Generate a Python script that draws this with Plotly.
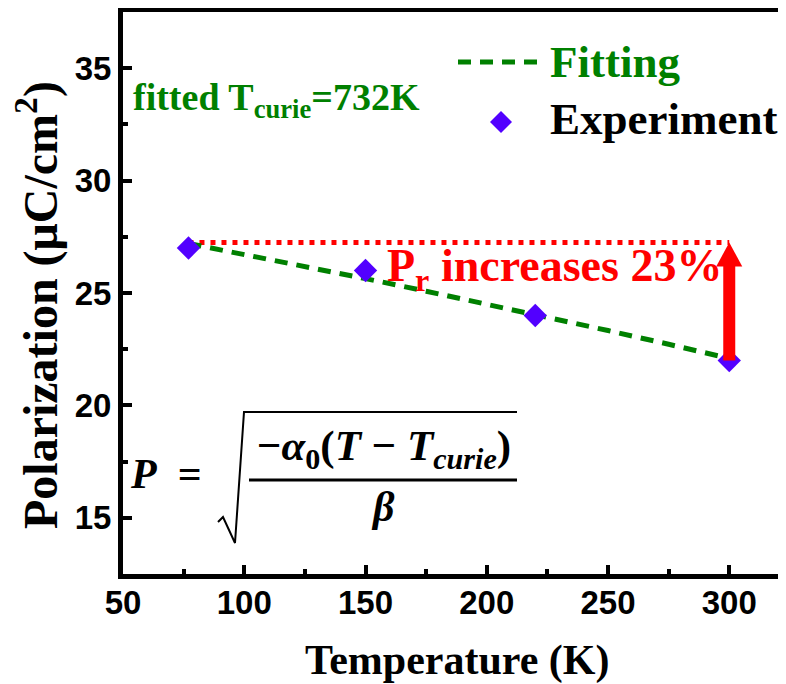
import plotly.graph_objects as go

# ---------------- data ----------------
temp_exp = [77, 150, 220, 300]
pol_exp = [27.0, 26.0, 24.0, 22.0]
temp_fit = [77, 100, 125, 150, 175, 200, 225, 250, 275, 300]
pol_fit = [27.20, 26.72, 26.18, 25.64, 25.08, 24.51, 23.93, 23.33, 22.72, 22.09]
ref_level = 27.25          # level of the red dotted reference line
x_ticks = [50, 100, 150, 200, 250, 300]
x_minor = [75, 125, 175, 225, 275]
y_ticks = [15, 20, 25, 30, 35]
y_minor = [12.5, 17.5, 22.5, 27.5, 32.5, 37.5]

# ---------------- layout helpers ----------------
# the page body has an 8px margin, so the figure is drawn 8px in from the window corner
OFF = 8
W, H = 786 - OFF, 684 - OFF
PL, PR, PT, PB = 123, 786, 12, 574     # plot area in window pixels
L, R, T, B = PL - OFF, 0, PT - OFF, H - (PB - OFF)


def px(x):
    return (x - PL) / (PR - PL)


def py(y):
    return (PB - y) / (PB - PT)


GREEN = "#008000"
RED = "#FF0000"
BLUE = "#5200FF"
SERIF = "Liberation Serif"
SANS = "Liberation Sans"

fig = go.Figure()

fig.add_trace(go.Scatter(
    x=[temp_exp[0], temp_exp[-1]], y=[ref_level, ref_level], mode="lines",
    line=dict(color=RED, width=5, dash="5px,6px"), showlegend=False, hoverinfo="skip"))

fig.add_trace(go.Scatter(
    x=temp_fit, y=pol_fit, mode="lines", name="Fitting",
    line=dict(color=GREEN, width=5, dash="13px,9px"), showlegend=False))

fig.add_trace(go.Scatter(
    x=temp_exp, y=pol_exp, mode="markers", name="Experiment",
    marker=dict(symbol="diamond", size=18, color=BLUE, line=dict(width=0)),
    showlegend=False))

shapes = []
# red arrow at the last temperature, from the measured value up to the reference level
head_h = 1.07  # data units
shapes.append(dict(type="rect", xref="x", yref="y", xsizemode="pixel", xanchor=temp_exp[-1],
                   x0=-6, x1=6, y0=pol_exp[-1], y1=ref_level - head_h + 0.05,
                   fillcolor=RED, line=dict(width=0), layer="above"))
shapes.append(dict(type="path", xref="x", yref="y", xsizemode="pixel", xanchor=temp_exp[-1],
                   path=f"M -13,{ref_level - head_h} L 13,{ref_level - head_h} L 0,{ref_level} Z",
                   fillcolor=RED, line=dict(width=0), layer="above"))

# legend samples
shapes.append(dict(type="line", xref="paper", yref="paper",
                   x0=px(458), x1=px(540), y0=py(62), y1=py(62),
                   line=dict(color=GREEN, width=5, dash="13px,9px")))
shapes.append(dict(type="path", xref="paper", yref="paper",
                   path=f"M {px(490)},{py(122)} L {px(501)},{py(111)} L {px(512)},{py(122)} L {px(501)},{py(133)} Z",
                   fillcolor=BLUE, line=dict(width=0)))

# formula: radical sign and fraction bar
shapes.append(dict(type="path", xref="paper", yref="paper",
                   path=(f"M {px(218)},{py(522)} L {px(223)},{py(517)} L {px(235)},{py(543)} "
                         f"L {px(244)},{py(412)} L {px(517)},{py(412)}"),
                   line=dict(color="black", width=2)))
shapes.append(dict(type="line", xref="paper", yref="paper",
                   x0=px(249), x1=px(517), y0=py(480), y1=py(480),
                   line=dict(color="black", width=3)))

annotations = []


def ann(text, x, y, size, color="black", xanchor="left", yanchor="middle", family=SERIF,
        weight="bold", style="normal", angle=0):
    annotations.append(dict(text=text, x=px(x), y=py(y), xref="paper", yref="paper",
                            showarrow=False, xanchor=xanchor, yanchor=yanchor, textangle=angle,
                            font=dict(family=family, size=size, color=color, weight=weight, style=style)))


ann("Fitting", 548, 62, 45, GREEN)
ann("Experiment", 548, 119, 45, "black")
ann("fitted T<sub>curie</sub>=732K", 131, 100, 38, GREEN)
ann("P<sub>r</sub> increases 23%", 385, 269, 46, RED)

# formula text
ann("<i>P</i>  =", 128, 474, 42)
ann("−<i>α</i><sub>0</sub>(<i>T</i> − <i>T</i><sub><i>curie</i></sub>)", 384, 449, 43, xanchor="center")
ann("<i>β</i>", 383, 507, 42, xanchor="center")

# axis titles
ann("Temperature (K)", 457, 660, 42, xanchor="center")
ann("Polarization (μC/cm<sup>2</sup>)", 38, 305, 48, xanchor="center", angle=-90)

axis_common = dict(showgrid=False, zeroline=False, showline=True, linecolor="black", linewidth=5,
                   ticks="inside", ticklen=9, tickwidth=4, tickcolor="black",
                   tickfont=dict(family=SANS, size=33, color="black", weight="bold"))

fig.update_layout(
    width=W, height=H, margin=dict(l=L, r=R, t=T, b=B, autoexpand=False),
    paper_bgcolor="white", plot_bgcolor="white",
    xaxis=dict(range=[50, 323.4], tickvals=x_ticks, mirror=True, ticklabelstandoff=-5,
               minor=dict(tickvals=x_minor, ticks="inside", ticklen=5, tickwidth=4, tickcolor="black"),
               **axis_common),
    yaxis=dict(range=[12.5, 37.5], tickvals=y_ticks, mirror=False,
               minor=dict(tickvals=y_minor, ticks="inside", ticklen=5, tickwidth=4, tickcolor="black"),
               **axis_common),
    shapes=shapes, annotations=annotations, showlegend=False)

fig.write_html("out.html")
